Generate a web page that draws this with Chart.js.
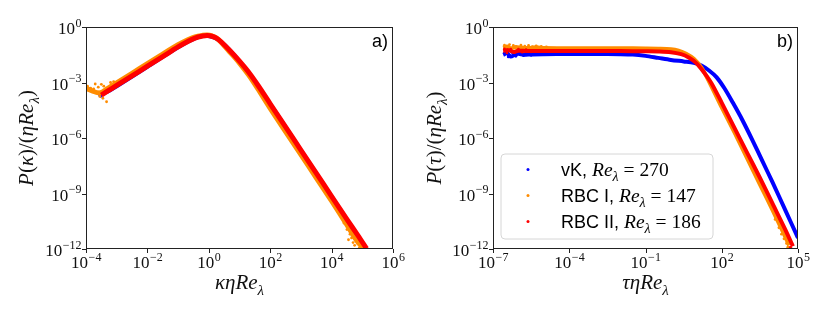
<!DOCTYPE html>
<html>
<head>
<meta charset="utf-8">
<script src="https://cdn.jsdelivr.net/npm/chart.js@4.4.1/dist/chart.umd.min.js"></script>
<style>
  html, body { margin: 0; padding: 0; background: #fff; }
  #wrap { position: relative; width: 830px; height: 312px; overflow: hidden; }
  canvas { position: absolute; top: 0; }
  #cA { left: 0; }
  #cB { left: 415px; }
</style>
</head>
<body>
<div id="wrap">
  <canvas id="cA" width="415" height="312"></canvas>
  <canvas id="cB" width="415" height="312"></canvas>
</div>
<script>
// all values are log10

// panel a) P(kappa)/(eta Re) vs kappa eta Re
const aRedX = [-3.5, -3.3, -3.0, -2.5, -2.0, -1.5, -1.0, -0.7, -0.45, -0.2, -0.05, 0.1, 0.25, 0.4, 0.7, 1.0, 1.3, 1.6, 2.0, 2.5, 3.0, 3.5, 4.0, 4.5, 4.85, 5.14];
const aRedY = [-3.68, -3.47, -3.16, -2.64, -2.12, -1.6, -1.08, -0.8, -0.6, -0.49, -0.46, -0.5, -0.6, -0.8, -1.3, -1.85, -2.45, -3.15, -4.15, -5.4, -6.65, -7.9, -9.15, -10.4, -11.25, -11.98];
const aOrangeX = [-4.0, -3.8, -3.6, -3.45, -3.3, -3.0, -2.5, -2.0, -1.5, -1.0, -0.7, -0.45, -0.2, -0.05, 0.1, 0.25, 0.4, 0.7, 1.0, 1.3, 1.6, 2.0, 2.5, 3.0, 3.5, 4.0, 4.5, 4.8, 5.05];
const aOrangeY = [-3.32, -3.45, -3.56, -3.5, -3.33, -3.02, -2.5, -1.98, -1.46, -0.96, -0.7, -0.53, -0.45, -0.43, -0.48, -0.6, -0.82, -1.38, -1.95, -2.6, -3.35, -4.4, -5.65, -6.9, -8.15, -9.4, -10.7, -11.5, -12.0];
const aBlueX = [-3.55, -3.3, -3.0, -2.0, -1.0, -0.45, -0.05, 0.4, 1.0, 2.0, 3.0, 4.0, 5.0];
const aBlueY = [-3.62, -3.5, -3.2, -2.15, -1.1, -0.62, -0.47, -0.8, -1.87, -4.17, -6.67, -9.17, -11.67];
const aOrangeNoiseX = [-3.95, -3.85, -3.75, -3.7, -3.6, -3.5, -3.42, -3.33, -3.45, -3.2, -3.1, -3.55, 4.3, 4.4, 4.5, 4.55, 4.6, 4.65, 4.7, 4.75, 4.85, 4.9, 4.95];
const aOrangeNoiseY = [-3.2, -3.3, -3.35, -3.08, -3.25, -3.1, -3.2, -4.04, -3.85, -3.0, -2.95, -3.75, -10.15, -10.6, -10.95, -11.5, -11.2, -11.4, -11.65, -11.8, -11.7, -11.95, -11.85];
const aBlueNoiseX = [-3.58, -3.55, -3.5, -3.52];
const aBlueNoiseY = [-3.55, -3.7, -3.6, -3.75];

// panel b) P(tau)/(eta Re) vs tau eta Re
const bBlueX = [-6.6, -6.45, -6.3, -6.15, -6.0, -5.8, -5.5, -5.0, -4.0, -3.0, -2.0, -1.5, -1.0, -0.5, 0, 0.5, 0.9, 1.2, 1.5, 1.8, 2.1, 2.44, 2.8, 3.2, 3.6, 4.0, 4.5, 5.0];
const bBlueY = [-1.5, -1.42, -1.6, -1.5, -1.45, -1.5, -1.48, -1.47, -1.46, -1.46, -1.47, -1.49, -1.56, -1.67, -1.78, -1.86, -1.93, -2.08, -2.35, -2.72, -3.3, -4.1, -5.0, -6.1, -7.25, -8.4, -9.9, -11.4];
const bOrangeX = [-6.6, -6.45, -6.3, -6.1, -5.9, -5.6, -5.3, -5.0, -4.0, -3.0, -2.0, -1.0, -0.5, 0, 0.3, 0.6, 0.9, 1.2, 1.5, 2.0, 2.5, 3.0, 3.5, 4.0, 4.4, 4.65];
const bOrangeY = [-1.12, -1.05, -1.15, -1.08, -1.12, -1.13, -1.1, -1.14, -1.15, -1.15, -1.15, -1.16, -1.17, -1.2, -1.28, -1.45, -1.72, -2.2, -2.95, -4.35, -5.7, -7.1, -8.5, -9.9, -11.05, -11.8];
const bRedX = [-6.6, -6.4, -6.2, -6.0, -5.7, -5.4, -5.0, -4.0, -3.0, -2.0, -1.0, -0.5, 0, 0.4, 0.7, 1.0, 1.3, 1.6, 2.0, 2.5, 3.0, 3.5, 4.0, 4.5, 4.8];
const bRedY = [-1.3, -1.25, -1.35, -1.28, -1.3, -1.3, -1.3, -1.3, -1.3, -1.3, -1.31, -1.32, -1.36, -1.47, -1.65, -1.95, -2.45, -3.05, -4.1, -5.45, -6.8, -8.15, -9.55, -10.95, -11.85];
const bBlueNoiseX = [-6.55, -6.4, -6.35, -6.25, -6.1, -5.95, -5.8, -5.65, -5.5, -5.3];
const bBlueNoiseY = [-1.4, -1.62, -1.55, -1.38, -1.58, -1.4, -1.55, -1.42, -1.53, -1.42];
const bOrangeNoiseX = [-6.55, -6.45, -6.35, -6.2, -6.05, -5.9, -5.75, -5.6, -5.45, -5.3, -5.1, -4.9, 4.1, 4.25, 4.35, 4.45, 4.55, 4.6, 4.7];
const bOrangeNoiseY = [-0.98, -1.2, -0.95, -1.0, -1.22, -0.98, -1.04, -1.0, -1.06, -1.02, -1.05, -1.08, -10.4, -10.85, -11.2, -11.45, -11.7, -11.9, -11.95];
const bRedNoiseX = [-6.55, -6.45, -6.3, -6.15, -6.0, -5.85, -5.7, -5.5, 4.7, 4.75];
const bRedNoiseY = [-1.18, -1.4, -1.2, -1.38, -1.2, -1.36, -1.22, -1.34, -11.9, -12.0];

const aTicksX = [-4, -2, 0, 2, 4, 6];
const bTicksX = [-7, -4, -1, 2, 5];
const ticksY = [0, -3, -6, -9, -12];

const legendNames = ['vK', 'RBC I', 'RBC II'];
const legendRe = ['270', '147', '186'];

const BLUE = '#0000ff', ORANGE = '#ff8c00', RED = '#ff0000';
const legendColors = [BLUE, ORANGE, RED];

const SERIF = '"Liberation Serif", "DejaVu Serif", serif';
const SANS = '"Liberation Sans", Arial, sans-serif';

function pts(xs, ys) { return xs.map((x, i) => ({ x: Math.pow(10, x), y: Math.pow(10, ys[i]) })); }
function band(xs, ys, color, w, order) {
  return { data: pts(xs, ys), showLine: true, borderColor: color, backgroundColor: color,
    borderWidth: w, pointRadius: 0, tension: 0.3, order };
}
function dots(xs, ys, color, order) {
  return { data: pts(xs, ys), showLine: false, pointRadius: 1.4, pointBorderWidth: 0,
    pointBackgroundColor: color, backgroundColor: color, order };
}

// text runs: [text, style] with style 'it', 'rm', 'sans', 'sub'
function fontOf(st, s) {
  if (st === 'sans') return s + 'px ' + SANS;
  if (st === 'rm') return s + 'px ' + SERIF;
  if (st === 'sub') return 'italic ' + Math.round(s * 0.7) + 'px ' + SERIF;
  return 'italic ' + s + 'px ' + SERIF;
}
function runWidth(ctx, parts, s) {
  let w = 0;
  for (const [t, st, sz] of parts) { ctx.font = fontOf(st, sz || s); w += ctx.measureText(t).width; }
  return w;
}
function drawRun(ctx, parts, x, y, s, align) {
  const w = runWidth(ctx, parts, s);
  let cx = align === 'center' ? x - w / 2 : (align === 'right' ? x - w : x);
  ctx.textAlign = 'left'; ctx.textBaseline = 'alphabetic';
  for (const [t, st, sz] of parts) {
    const fs = sz || s;
    ctx.font = fontOf(st, fs);
    ctx.fillText(t, cx, st === 'sub' ? y + fs * 0.28 : y);
    cx += ctx.measureText(t).width;
  }
}
function drawPow(ctx, e, x, y, align) {
  const es = e < 0 ? '\u2212' + Math.abs(e) : String(e);
  ctx.font = '17px ' + SERIF; const w1 = ctx.measureText('10').width;
  ctx.font = '12px ' + SERIF; const w2 = ctx.measureText(es).width;
  const x0 = align === 'center' ? x - (w1 + w2) / 2 : x - (w1 + w2);
  ctx.textAlign = 'left'; ctx.textBaseline = 'alphabetic';
  ctx.font = '17px ' + SERIF; ctx.fillText('10', x0, y);
  ctx.font = '12px ' + SERIF; ctx.fillText(es, x0 + w1 + 0.5, y - 7.5);
}

const deco = {
  id: 'deco',
  afterDatasetsDraw(chart, args, o) {
    const { ctx, chartArea: a, scales: { x, y } } = chart;
    ctx.save();
    ctx.fillStyle = '#000';
    ctx.strokeStyle = '#222';
    ctx.lineWidth = 1;
    // legend box
    if (o.legend) {
      const L = a.left + 8, T = 154, R = L + 212, B = 239, r = 4;
      ctx.beginPath();
      ctx.moveTo(L + r, T); ctx.arcTo(R, T, R, B, r); ctx.arcTo(R, B, L, B, r);
      ctx.arcTo(L, B, L, T, r); ctx.arcTo(L, T, R, T, r); ctx.closePath();
      ctx.fillStyle = 'rgba(255,255,255,0.8)'; ctx.fill();
      ctx.strokeStyle = '#d6d6d6'; ctx.stroke();
      legendNames.forEach((n, i) => {
        const cy = 169.5 + i * 26;
        ctx.fillStyle = legendColors[i];
        ctx.beginPath(); ctx.arc(L + 27, cy, 1.5, 0, Math.PI * 2); ctx.fill();
        ctx.fillStyle = '#000';
        drawRun(ctx, [[n + ', ', 'sans', 18], ['Re', 'it'], ['\u03bb', 'sub'], [' = ' + legendRe[i], 'rm']], L + 60, cy + 6.5, 19.5, 'left');
      });
    }
    // frame
    ctx.strokeStyle = '#222';
    ctx.strokeRect(a.left + 0.5, a.top + 0.5, a.right - a.left - 1, a.bottom - a.top - 1);
    // ticks + labels
    ctx.beginPath();
    for (const e of o.xt) {
      const px = Math.round(x.getPixelForValue(Math.pow(10, e))) + 0.5;
      ctx.moveTo(px, a.bottom); ctx.lineTo(px, a.bottom + 4);
    }
    for (const e of ticksY) {
      const py = Math.round(y.getPixelForValue(Math.pow(10, e))) + 0.5;
      ctx.moveTo(a.left, py); ctx.lineTo(a.left - 4, py);
    }
    ctx.stroke();
    ctx.fillStyle = '#111';
    for (const e of o.xt) drawPow(ctx, e, x.getPixelForValue(Math.pow(10, e)), a.bottom + 19, 'center');
    for (const e of ticksY) drawPow(ctx, e, a.left - 5, y.getPixelForValue(Math.pow(10, e)) + 7, 'right');
    // axis titles
    drawRun(ctx, o.xlab, (a.left + a.right) / 2, 289, 21, 'center');
    ctx.save();
    ctx.translate(o.ylx, (a.top + a.bottom) / 2);
    ctx.rotate(-Math.PI / 2);
    drawRun(ctx, o.ylab, 0, 0, 21, 'center');
    ctx.restore();
    // panel tag
    ctx.fillStyle = '#000';
    ctx.font = '18px ' + SANS; ctx.textAlign = 'right';
    ctx.fillText(o.tag, a.right - 5, a.top + 20);
    ctx.restore();
  }
};

function makeChart(id, datasets, xmin, xmax, yw, padR, opts) {
  return new Chart(document.getElementById(id), {
    type: 'scatter',
    data: { datasets },
    options: {
      responsive: false, animation: false,
      layout: { padding: { left: 0, right: padR, top: 27, bottom: 0 } },
      plugins: { legend: { display: false }, tooltip: { enabled: false }, deco: opts },
      scales: {
        x: { type: 'logarithmic', min: xmin, max: xmax, ticks: { display: false },
             grid: { display: false }, border: { display: false },
             afterFit: s => { s.height = 63; } },
        y: { type: 'logarithmic', min: 1e-12, max: 1, ticks: { display: false },
             grid: { display: false }, border: { display: false },
             afterFit: s => { s.width = yw; } }
      }
    },
    plugins: [deco]
  });
}

makeChart('cA', [
  band(aRedX, aRedY, RED, 5, 0),
  band(aOrangeX, aOrangeY, ORANGE, 5, 1),
  dots(aOrangeNoiseX, aOrangeNoiseY, ORANGE, 1),
  band(aBlueX, aBlueY, BLUE, 4, 2),
  dots(aBlueNoiseX, aBlueNoiseY, BLUE, 2)
], 1e-4, 1e6, 86, 22, {
  xt: aTicksX, tag: 'a)', legend: false, ylx: 33,
  xlab: [['\u03baηRe', 'it'], ['\u03bb', 'sub']],
  ylab: [['P', 'it'], ['(', 'rm'], ['\u03ba', 'it'], [')/(', 'rm'], ['ηRe', 'it'], ['\u03bb', 'sub'], [')', 'rm']]
});

makeChart('cB', [
  band(bRedX, bRedY, RED, 4, 0),
  dots(bRedNoiseX, bRedNoiseY, RED, 0),
  band(bOrangeX, bOrangeY, ORANGE, 4, 1),
  dots(bOrangeNoiseX, bOrangeNoiseY, ORANGE, 1),
  band(bBlueX, bBlueY, BLUE, 4, 2),
  dots(bBlueNoiseX, bBlueNoiseY, BLUE, 2)
], 1e-7, 1e5, 78, 32, {
  xt: bTicksX, tag: 'b)', legend: true, ylx: 26,
  xlab: [['τηRe', 'it'], ['\u03bb', 'sub']],
  ylab: [['P', 'it'], ['(', 'rm'], ['τ', 'it'], [')/(', 'rm'], ['ηRe', 'it'], ['\u03bb', 'sub'], [')', 'rm']]
});
</script>
</body>
</html>
